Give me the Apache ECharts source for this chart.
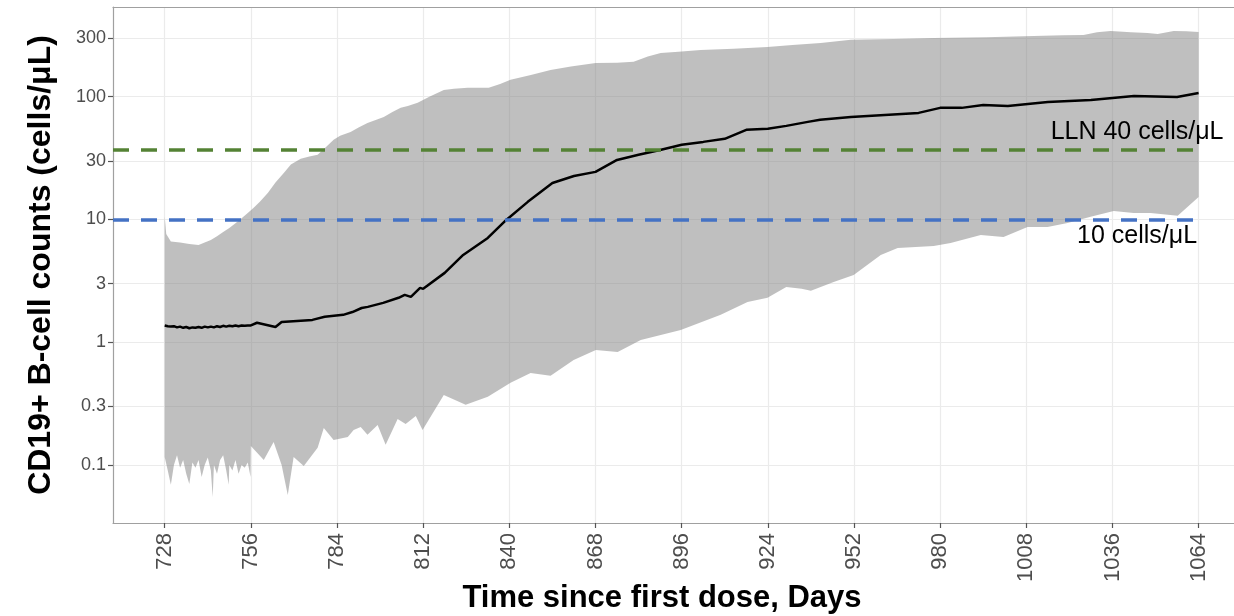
<!DOCTYPE html>
<html>
<head>
<meta charset="utf-8">
<script src="https://cdn.jsdelivr.net/npm/echarts@6/dist/echarts.min.js"></script>
<style>
  html, body { margin: 0; padding: 0; background: #fff; }
  #main { width: 1234px; height: 616px; }
</style>
</head>
<body>
<div id="main"></div>
<script>
// x ticks (days) and y ticks (cells/uL)
const xTicks = [728, 756, 784, 812, 840, 868, 896, 924, 952, 980, 1008, 1036, 1064];
const yTicks = [0.1, 0.3, 1, 3, 10, 30, 100, 300];

// upper edge of the shaded band
const upperDays = [728, 728.5, 730, 733, 736, 739, 741, 743, 745, 747, 749, 751, 753, 755, 757, 759, 761.5, 764, 766.7, 769,
    772.2, 775, 777.7, 780, 782.9, 785, 788.4, 791, 793.9, 797, 799.2, 802, 804.7, 807, 810.2, 814, 818.7, 822, 826.5, 833.3,
    837, 840.4, 847, 853.4, 860, 868.1, 875, 880.4, 885, 889.2, 895, 902.2, 912.9, 923.9, 932, 941.2, 951, 965, 977.9, 995,
    1010.4, 1020, 1026.6, 1031, 1035.4, 1042, 1047.4, 1050.7, 1055.9, 1060, 1064];
const upperVals = [10.5, 7.6, 6.6, 6.5, 6.3, 6.2, 6.5, 6.8, 7.3, 7.9, 8.5, 9.3, 10.2, 11.3, 12.5, 14, 16.4, 20, 23.9, 28,
    31.2, 32.5, 33.6, 38, 44.5, 48, 51.6, 56, 61.1, 65, 68.4, 75, 81, 84, 89, 100, 113, 116, 118, 118,
    127, 137, 150, 165, 176, 188, 189, 192, 212, 227, 232, 240, 245, 254, 263, 274, 290, 295, 300, 305,
    312, 316, 318, 335, 343, 335, 330, 324, 343, 340, 336];

// lower edge of the shaded band
const lowerDays = [728, 729, 730, 731, 732, 733, 734, 735, 736, 737, 738, 739, 740, 741, 742, 743, 743.6, 744, 745, 746,
    747, 748, 748.8, 749, 750, 751, 752, 753, 754, 755, 755.9, 756, 760.2, 763.4, 766, 768, 769.9, 773.2, 777.7, 779.7,
    782.9, 787.5, 789.4, 791.7, 793.9, 797.2, 799.8, 803.7, 806.3, 809.6, 811.8, 818.7, 825.8, 833, 840.4, 846.9, 853.4, 860.9, 868.1, 875.2,
    882.7, 895.7, 908.7, 917.4, 923.9, 930, 935, 938, 945.4, 951.9, 960.7, 966.2, 977.9, 983.4, 993.2, 1000.6, 1008.4, 1014.9, 1021.4, 1028.9,
    1036.4, 1042.9, 1048.4, 1057.2, 1064];
const lowerVals = [0.116, 0.09, 0.069, 0.1, 0.12, 0.095, 0.11, 0.085, 0.07, 0.105, 0.095, 0.11, 0.08, 0.1, 0.115, 0.09, 0.055, 0.1, 0.085, 0.11,
    0.12, 0.09, 0.069, 0.1, 0.09, 0.11, 0.085, 0.1, 0.095, 0.105, 0.08, 0.143, 0.11, 0.154, 0.1, 0.057, 0.116, 0.098, 0.138, 0.2,
    0.16, 0.169, 0.193, 0.204, 0.176, 0.212, 0.146, 0.237, 0.216, 0.251, 0.193, 0.372, 0.309, 0.359, 0.467, 0.562, 0.532, 0.718, 0.865, 0.833,
    1.04, 1.26, 1.67, 2.13, 2.3, 2.82, 2.72, 2.62, 3.1, 3.53, 5.14, 5.86, 6.08, 6.44, 7.48, 7.2, 8.69, 8.69, 9.35, 10.5,
    11.7, 11.3, 11.3, 10.7, 15.2];

// median line
const medianDays = [728, 729, 730, 731, 732, 733, 734, 735, 736, 737, 738, 739, 740, 741, 742, 743, 744, 745, 746, 747,
    748, 749, 750, 751, 752, 753, 754, 755, 756, 758, 764, 766, 776, 780, 786, 789, 792, 794, 799, 804,
    806, 808, 811, 812, 819, 825, 833, 839, 846, 854, 861, 868, 875, 882, 889, 896, 903, 910, 917, 924,
    930, 937, 941, 951, 973, 980, 987, 994, 1002, 1015, 1029, 1043, 1057, 1064];
const medianVals = [1.37, 1.35, 1.34, 1.35, 1.32, 1.34, 1.31, 1.33, 1.3, 1.32, 1.31, 1.33, 1.31, 1.34, 1.32, 1.34, 1.32, 1.35, 1.33, 1.36,
    1.34, 1.36, 1.35, 1.37, 1.35, 1.37, 1.36, 1.37, 1.37, 1.44, 1.33, 1.46, 1.52, 1.61, 1.67, 1.76, 1.9, 1.94, 2.09, 2.3,
    2.43, 2.34, 2.77, 2.72, 3.67, 5.14, 7.07, 9.9, 13.9, 19.8, 22.6, 24.4, 30.5, 33.6, 36.8, 40.5, 42.8, 45.3, 53.7, 54.7,
    57.8, 62.3, 64.7, 68.4, 73.7, 81, 81, 85.5, 84, 90.5, 94, 101, 99.4, 107];

// reference lines and their labels
const refNames = ['LLN 40 cells/μL', '10 cells/μL'];
const refValues = [37, 10];
const refLabelY = [51.6, 7.3];
const refLabelX = 1044;
const xMin = 711.2, xMax = 1075.5;

const chart = echarts.init(document.getElementById('main'));

const option = {
    backgroundColor: '#fff',
    animation: false,
    grid: { left: 113, top: 7, right: 0, height: 516 },
    xAxis: [
        {
            type: 'value',
            min: xMin,
            max: xMax,
            axisLine: { show: true, lineStyle: { color: '#a0a0a0', width: 1.2 } },
            axisTick: { show: true, length: 5, customValues: xTicks, lineStyle: { color: '#555', width: 1.2 } },
            axisLabel: {
                customValues: xTicks, rotate: 90, margin: 10,
                color: '#4d4d4d', fontSize: 22, fontFamily: "'Liberation Sans Narrow', 'Arial Narrow', sans-serif",
                formatter: v => String(v)
            },
            splitLine: { show: true, lineStyle: { color: '#ebebeb', width: 1.2 } }
        },
        {
            type: 'value',
            position: 'top',
            min: xMin,
            max: xMax,
            axisLine: { show: true, onZero: false, lineStyle: { color: '#a0a0a0', width: 1.2 } },
            axisTick: { show: false },
            axisLabel: { show: false },
            splitLine: { show: false }
        }
    ],
    yAxis: {
        type: 'log',
        min: 0.0337,
        max: 537,
        axisLine: { show: true, lineStyle: { color: '#a0a0a0', width: 1.2 } },
        axisTick: { show: true, length: 5, customValues: yTicks, lineStyle: { color: '#555', width: 1.2 } },
        axisLabel: {
            customValues: yTicks, margin: 7,
            color: '#4d4d4d', fontSize: 18, fontFamily: "'Liberation Sans', Arial, sans-serif",
            formatter: v => String(+v.toPrecision(3))
        },
        splitLine: { show: true, lineStyle: { color: '#ebebeb', width: 1.2 } },
        minorSplitLine: { show: false }
    },
    series: [
        {
            type: 'custom',
            name: 'band',
            data: [[728, 1]],
            z: 2,
            renderItem: function (params, api) {
                if (params.dataIndex !== 0) return null;
                const pts = [];
                for (let i = 0; i < upperDays.length; i++) pts.push(api.coord([upperDays[i], upperVals[i]]));
                for (let i = lowerDays.length - 1; i >= 0; i--) pts.push(api.coord([lowerDays[i], lowerVals[i]]));
                return {
                    type: 'polygon',
                    shape: { points: pts },
                    style: { fill: 'rgba(127,127,127,0.5)', stroke: null }
                };
            }
        },
        {
            type: 'line',
            name: 'median',
            z: 3,
            data: medianDays.map((d, i) => [d, medianVals[i]]),
            showSymbol: false,
            lineStyle: { color: '#000', width: 2.5 },
            markLine: {
                silent: true,
                symbol: ['none', 'none'],
                label: { show: false },
                data: refValues.map((v, i) => [
                    { coord: [xMin, v], lineStyle: { color: i === 0 ? '#548235' : '#4472c4', width: 3.5, type: [16, 12] } },
                    { coord: [1064, v] }
                ])
            },
            markPoint: {
                silent: true,
                symbol: 'circle',
                symbolSize: 0,
                label: {
                    show: true, position: 'inside', color: '#000',
                    fontSize: 25, fontFamily: "'Liberation Sans', Arial, sans-serif",
                    formatter: p => p.name
                },
                data: refNames.map((n, i) => ({ name: n, coord: [refLabelX, refLabelY[i]] }))
            }
        }
    ],
    graphic: [
        {
            type: 'text',
            x: 41, y: 265,
            rotation: Math.PI / 2,
            style: {
                text: 'CD19+ B-cell counts (cells/μL)',
                fontSize: 32, fontWeight: 'bold', fontFamily: "'Liberation Sans', Arial, sans-serif",
                fill: '#000', align: 'center', verticalAlign: 'middle'
            }
        },
        {
            type: 'text',
            x: 662, y: 598,
            style: {
                text: 'Time since first dose, Days',
                fontSize: 31, fontWeight: 'bold', fontFamily: "'Liberation Sans', Arial, sans-serif",
                fill: '#000', align: 'center', verticalAlign: 'middle'
            }
        }
    ]
};

chart.setOption(option);
</script>
</body>
</html>
